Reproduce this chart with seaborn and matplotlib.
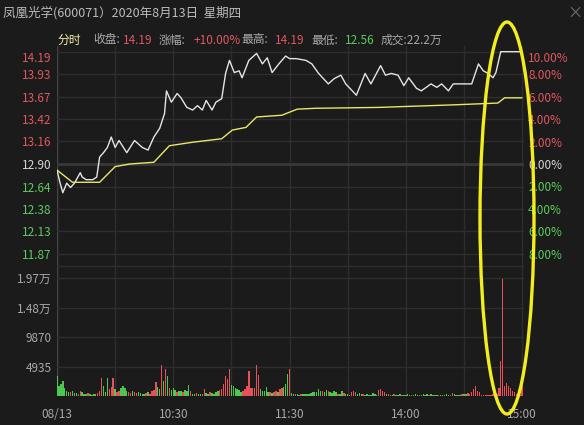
import numpy as np
import matplotlib
matplotlib.use("Agg")
import matplotlib.pyplot as plt
import matplotlib.transforms as mtransforms
from matplotlib.patches import Ellipse
import seaborn as sns

sns.set_style("dark")
plt.rcParams['font.family'] = ['Noto Sans CJK SC', 'DejaVu Sans']
plt.rcParams['patch.force_edgecolor'] = False

# ---- data ----
prev_close = 12.90

# price line (minute from 9:30, price)
price_min = [0, 1.5, 3, 5, 7, 9, 12, 13, 15, 18.5, 20.5, 22, 24, 26, 28, 30, 32, 36, 40, 44,
             47, 50, 53, 55.5, 56.5, 59, 62, 64, 67, 70, 72.5, 75, 77, 80, 82, 85, 87, 89,
             91.5, 94, 95.5, 99, 103, 106, 108.5, 111, 114.5, 118, 120, 123.5, 128.5, 131.5,
             135, 140, 143, 146.5, 149, 154.5, 159, 162, 167, 169.5, 172.5, 176, 179, 181.5,
             185.5, 188, 193, 196, 198.5, 202, 204.5, 208, 214, 217.5, 220, 222.5, 225, 226.5,
             229, 240]
price_val = [12.83, 12.69, 12.57, 12.68, 12.63, 12.68, 12.80, 12.75, 12.72, 12.72, 12.75, 12.98,
             13.03, 13.09, 13.21, 13.09, 13.17, 13.03, 13.17, 13.09, 13.06, 13.21, 13.31, 13.48,
             13.74, 13.61, 13.71, 13.66, 13.55, 13.52, 13.57, 13.52, 13.63, 13.52, 13.61, 13.65,
             13.94, 14.09, 13.95, 13.97, 13.89, 14.09, 14.17, 14.05, 14.12, 13.95, 14.05, 14.14,
             14.11, 14.11, 14.09, 14.05, 13.94, 13.82, 13.88, 13.92, 13.82, 13.69, 13.94, 13.82,
             14.03, 13.92, 13.94, 13.92, 13.80, 13.89, 13.77, 13.74, 13.82, 13.78, 13.82, 13.74,
             13.82, 13.82, 13.82, 14.05, 13.97, 13.94, 13.89, 13.95, 14.19, 14.19]

# average price line
avg_min = [0, 8, 22, 30, 37.5, 50, 58, 70, 85, 90.5, 97.5, 103, 116, 124, 133.5, 166, 205.5,
           227.5, 231, 240]
avg_val = [12.83, 12.69, 12.69, 12.87, 12.90, 12.92, 13.11, 13.15, 13.19, 13.29, 13.32, 13.44,
           13.46, 13.53, 13.54, 13.55, 13.58, 13.60, 13.66, 13.66]

# per-minute volume (hands) and direction r=up g=down
volume = [3400, 1600, 2000, 2500, 1300, 800, 700, 600, 800, 500,
          500, 400, 800, 600, 400, 300, 500, 300, 200, 300,
          300, 500, 900, 3000, 1700, 700, 3000, 1200, 1500, 3000,
          1200, 600, 800, 1300, 1700, 1400, 900, 600, 500, 900,
          600, 500, 700, 500, 400, 300, 500, 600, 400, 900,
          1000, 2400, 1500, 1200, 5200, 2500, 4500, 3300, 1300, 1000,
          1300, 1000, 700, 900, 800, 600, 1000, 800, 1800, 900,
          400, 300, 500, 400, 300, 300, 1200, 500, 300, 600,
          500, 400, 700, 800, 1000, 1200, 2000, 3300, 2800, 4500,
          1800, 1700, 1400, 1100, 1000, 700, 900, 1100, 1600, 4200,
          1300, 1300, 1400, 5200, 3500, 1100, 800, 900, 1500, 600,
          700, 500, 600, 800, 700, 1200, 1400, 1500, 2000, 3700,
          4500, 500, 300, 400, 300, 200, 300, 400, 300, 300,
          400, 500, 600, 700, 600, 1200, 800, 900, 700, 1000,
          800, 600, 500, 900, 600, 400, 300, 800, 500, 300,
          300, 200, 700, 900, 600, 300, 500, 400, 300, 200,
          300, 200, 200, 500, 300, 200, 1000, 1100, 800, 600,
          400, 300, 200, 200, 300, 200, 200, 300, 200, 100,
          200, 300, 200, 100, 200, 300, 200, 100, 200, 300,
          200, 300, 200, 300, 200, 100, 200, 100, 100, 200,
          200, 300, 100, 200, 500, 300, 200, 100, 200, 300,
          300, 400, 500, 300, 700, 1200, 1600, 800, 600, 200,
          200, 100, 100, 200, 100, 300, 200, 400, 1300, 5800,
          19500, 1600, 2200, 1700, 1300, 900, 600, 300, 200, 100, 1700]
direction = ("gggggggrgg" "grrgggrggg" "grrrgggrrr" "grrggggrrg" "rrggggrgrr"
             "rrggrgrgrg" "ggrggrgggr" "ggrggrrggr" "ggggrrrrrr" "ggggggrrrr"
             "rrrrrggggg" "rgrrgrrggg" "rggrggrggg" "gggggggrgg" "rggggrggrg"
             "ggrrrgggrg" "ggggggrrrr" "grggrgggrg" "gggrgggrgg" "ggrggggrgg"
             "gggrrggggr" "ggrrrrrrrr" "rrrrrrrrrr" "rrrrrrrrrrr")

price_ticks = [14.19, 13.93, 13.67, 13.42, 13.16, 12.90, 12.64, 12.38, 12.13, 11.87]
pct_ticks = [10, 8, 6, 4, 2, 0, -2, -4, -6, -8]
vol_ticks = [4935, 9870, 14800, 19740]
vol_labels = ["4935", "9870", "1.48万", "1.97万"]
time_ticks = [0, 60, 120, 180, 240]
time_labels = ["08/13", "10:30", "11:30", "14:00", "15:00"]

title = "凤凰光学(600071）2020年8月13日  星期四"

# ---- styling ----
BG = "#1b1b1b"
GRID = "#2e2e2e"
RED = "#e0585e"
GREEN = "#5ccb5c"
GRAY = "#a8a8a8"
bar_colors = {"r": "#e8505a", "g": "#4cc84c"}
W, H = 584, 425

fig = plt.figure(figsize=(W / 100, H / 100), dpi=100, facecolor=BG)


def box(x0, y0, x1, y1):
    return [x0 / W, 1 - y1 / H, (x1 - x0) / W, (y1 - y0) / H]


axp = fig.add_axes(box(57, 46, 524, 268))
axv = fig.add_axes(box(57, 268, 524, 396))
for ax in (axp, axv):
    ax.set_facecolor(BG)
    for s in ax.spines.values():
        s.set_visible(False)
    for t in range(0, 241, 30):
        ax.axvline(t, color=GRID, lw=1, zorder=0)
    ax.axvline(0, color="#454545", lw=1, zorder=0)
axp.axhline(11.73, color=GRID, lw=1, zorder=0)

# price panel
axp.set_ylim(prev_close - 104 / 87.07, prev_close + 118 / 87.07)
for p in price_ticks:
    axp.axhline(p, color=GRID, lw=1, zorder=0)
axp.axhline(prev_close, color="#383838", lw=2, zorder=0)
sns.lineplot(x=price_min, y=price_val, ax=axp, color="#e4e4e4", lw=1)
sns.lineplot(x=avg_min, y=avg_val, ax=axp, color="#e9e66a", lw=1)
axp.set_xlim(0, 241)
axp.set_yticks(price_ticks)
axp.set_yticklabels([f"{p:.2f}" for p in price_ticks], fontsize=8.5)
for lab, p in zip(axp.get_yticklabels(), price_ticks):
    lab.set_color(RED if p > prev_close else (GREEN if p < prev_close else "#d8d8d8"))
axp.tick_params(axis="y", length=0, pad=4)
axp.set_xticks([])
axp.set_xlabel("")
axp.set_ylabel("")

axr = axp.twinx()
lo, hi = axp.get_ylim()
axr.set_ylim((lo / prev_close - 1) * 100, (hi / prev_close - 1) * 100)
axr.set_yticks(pct_ticks)
axr.set_yticklabels([f"{abs(v):.2f}%" for v in pct_ticks], fontsize=8.5)
for lab, v in zip(axr.get_yticklabels(), pct_ticks):
    lab.set_color(RED if v > 0 else (GREEN if v < 0 else "#d8d8d8"))
axr.tick_params(axis="y", length=0, pad=3)
for s in axr.spines.values():
    s.set_visible(False)

# top labels sit a little lower in the reference
shift = mtransforms.ScaledTranslation(0, -5 / 100, fig.dpi_scale_trans)
axp.get_yticklabels()[0].set_transform(axp.get_yticklabels()[0].get_transform() + shift)
axr.get_yticklabels()[0].set_transform(axr.get_yticklabels()[0].get_transform() + shift)

# volume panel
for v in vol_ticks:
    axv.axhline(v, color=GRID, lw=1, zorder=0)
axv.bar(np.arange(len(volume)), volume, width=0.75, linewidth=0, edgecolor="none",
        color=[bar_colors[d] for d in direction], zorder=2)
axv.set_xlim(0, 241)
axv.set_ylim(0, (396 - 268) * 167.3)
axv.set_yticks(vol_ticks)
axv.set_yticklabels(vol_labels, fontsize=8.5, color=GRAY)
axv.set_xticks(time_ticks)
axv.set_xticklabels(time_labels, fontsize=8.5, color=GRAY)
axv.tick_params(length=0, pad=4)
axv.tick_params(axis="x", pad=9)

# header texts
fig.text(3 / W, 1 - 13 / H, title, color="#bcbcbc", fontsize=9, va="center")
fig.text(575 / W, 1 - 13 / H, "×", color="#707070", fontsize=11, va="center", ha="center")
hy = 1 - 40 / H
header = [(57, "分时", "#f2eea8"), (93, "收盘:", GRAY), (123, "14.19", RED), (159, "涨幅:", GRAY),
          (194, "+10.00%", RED), (241, "最高:", GRAY), (275, "14.19", RED), (311, "最低:", GRAY),
          (345, "12.56", GREEN), (381, "成交:22.2万", GRAY)]
for x, s, c in header:
    fig.text(x / W, hy, s, color=c, fontsize=8.5, va="center")

# highlight ellipse
fig.add_artist(Ellipse((507 / W, 1 - 218 / H), 54 / W, 392 / H, transform=fig.transFigure,
                       fill=False, edgecolor="#f2ee1e", lw=2.4, zorder=10))

fig.savefig("out.png", dpi=100, facecolor=BG)
